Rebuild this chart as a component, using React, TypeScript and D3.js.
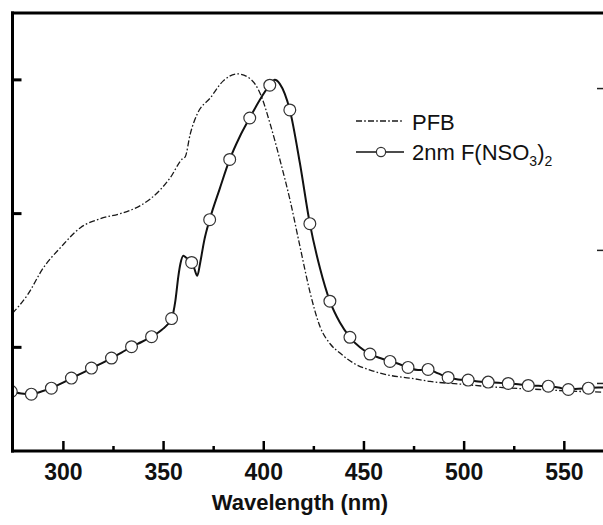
import React from "react";
import * as d3 from "d3";

// ---- Data ----
const xTicks = [300, 350, 400, 450, 500, 550];
const xMinorTicks = [325, 375, 425, 475, 525];
const yTicks = [0.2, 0.4, 0.6];
const rightTicks = [0.146, 0.345, 0.587];

// PFB (dash-dot)
const pfbNm = [274.6, 282.0, 290.0, 298.5, 308.5, 318.5, 328.4, 338.4, 343.4, 353.4, 359.4, 360.8, 363.3, 366.8, 373.3, 379.8, 386.8, 393.3, 398.3, 403.2, 408.2, 413.2, 418.2, 423.2, 428.2, 433.2, 438.2, 445.6, 453.1, 463.1, 473.1, 483.0, 498.0, 518.0, 537.9, 557.9, 570.3];
const pfbVal = [0.251, 0.278, 0.319, 0.349, 0.379, 0.3925, 0.400, 0.412, 0.422, 0.454, 0.482, 0.485, 0.519, 0.549, 0.573, 0.5985, 0.609, 0.6015, 0.579, 0.534, 0.479, 0.419, 0.349, 0.281, 0.230, 0.205, 0.191, 0.175, 0.166, 0.158, 0.154, 0.149, 0.145, 0.140, 0.137, 0.134, 0.133];

// 2nm F(NSO3)2 (solid line with circles)
const dopedNm = [274, 279, 284, 289, 294, 299, 304, 309, 314, 319, 324, 329, 334, 339, 344, 349, 354, 355.9, 357.4, 358.4, 359.9, 361.3, 364, 365.3, 366.8, 368.3, 370.3, 373, 378, 383, 388, 393, 398, 403, 405.5, 408, 410.5, 413, 418, 423, 428, 433, 438, 443, 448, 453, 458, 463, 467.5, 472, 477, 482, 487, 492, 497, 502, 507, 512, 517, 522, 527, 532, 537, 542, 547, 552, 557, 562, 567, 571];
const dopedVal = [0.134, 0.131, 0.130, 0.134, 0.139, 0.146, 0.154, 0.161, 0.169, 0.176, 0.184, 0.192, 0.201, 0.208, 0.216, 0.226, 0.243, 0.270, 0.307, 0.325, 0.337, 0.334, 0.327, 0.318, 0.307, 0.327, 0.360, 0.391, 0.437, 0.481, 0.515, 0.543, 0.570, 0.592, 0.600, 0.594, 0.579, 0.555, 0.476, 0.385, 0.319, 0.269, 0.237, 0.215, 0.200, 0.190, 0.184, 0.179, 0.175, 0.170, 0.166, 0.167, 0.161, 0.155, 0.152, 0.151, 0.149, 0.148, 0.147, 0.146, 0.145, 0.143, 0.1425, 0.142, 0.140, 0.137, 0.138, 0.139, 0.140, 0.140];

const markerNm = [274, 284, 294, 304, 314, 324, 334, 344, 354, 364, 373, 383, 393, 403, 413, 423, 433, 443, 453, 463, 472, 482, 492, 502, 512, 522, 532, 542, 552, 562];
const markerVal = [0.134, 0.130, 0.139, 0.154, 0.169, 0.184, 0.201, 0.216, 0.243, 0.327, 0.391, 0.481, 0.543, 0.592, 0.555, 0.385, 0.269, 0.215, 0.190, 0.179, 0.170, 0.167, 0.155, 0.151, 0.148, 0.146, 0.143, 0.142, 0.137, 0.139];

const legendLabels = ["PFB", "2nm F(NSO"];

// ---- Layout ----
const W = 603;
const H = 525;
const left = 12.5;
const right = 605;
const top = 13;
const bottom = 451;

export default function App() {
  const x = d3.scaleLinear().domain([274.6, 570.3]).range([left, right]);
  const y = d3.scaleLinear().domain([0.045, 0.7]).range([bottom, top]);

  const line = d3
    .line<[number, number]>()
    .x((d) => x(d[0]))
    .y((d) => y(d[1]))
    .curve(d3.curveMonotoneX);

  const pfbPath = line(pfbNm.map((n, i) => [n, pfbVal[i]]) as [number, number][]) || "";
  const dopedPath = line(dopedNm.map((n, i) => [n, dopedVal[i]]) as [number, number][]) || "";

  const font = "Arial, 'Liberation Sans', Helvetica, sans-serif";
  const dash = "6,2.2,1.6,2.2";

  return (
    <svg
      width={W}
      height={H}
      style={{ position: "absolute", left: 0, top: 0, background: "#fff" }}
      fontFamily={font}
    >
      <defs>
        <clipPath id="plot">
          <rect x={left} y={top} width={right - left} height={bottom - top} />
        </clipPath>
      </defs>
      <rect x={0} y={0} width={W} height={H} fill="#fff" />

      <g clipPath="url(#plot)">
        <path d={pfbPath} fill="none" stroke="#1a1a1a" strokeWidth={1.3} strokeDasharray={dash} />
        <path d={dopedPath} fill="none" stroke="#111" strokeWidth={2} />
        {markerNm.map((n, i) => (
          <circle key={i} cx={x(n)} cy={y(markerVal[i])} r={5.9} fill="#fff" stroke="#333" strokeWidth={1.2} />
        ))}
      </g>

      {/* Frame */}
      <line x1={left} x2={left} y1={top - 1.5} y2={bottom + 1.5} stroke="#000" strokeWidth={3} />
      <line x1={left - 1.5} x2={W + 5} y1={top} y2={top} stroke="#000" strokeWidth={3} />
      <line x1={left - 1.5} x2={W + 5} y1={bottom} y2={bottom} stroke="#000" strokeWidth={3} />

      {/* Left ticks */}
      {yTicks.map((t) => (
        <line key={t} x1={left} x2={left + 9} y1={y(t)} y2={y(t)} stroke="#000" strokeWidth={3} />
      ))}
      {/* Right ticks */}
      {rightTicks.map((t) => (
        <line key={t} x1={597} x2={603} y1={y(t)} y2={y(t)} stroke="#222" strokeWidth={1.5} />
      ))}

      {/* Bottom ticks */}
      {xTicks.map((t) => (
        <g key={t}>
          <line x1={x(t)} x2={x(t)} y1={bottom} y2={bottom - 10} stroke="#000" strokeWidth={2.5} />
          <text x={x(t)} y={480} textAnchor="middle" fontSize={23} fontWeight="bold" fill="#111">
            {t}
          </text>
        </g>
      ))}
      {xMinorTicks.map((t) => (
        <line key={t} x1={x(t)} x2={x(t)} y1={bottom} y2={bottom - 5} stroke="#000" strokeWidth={2.5} />
      ))}

      <text x={300} y={510} textAnchor="middle" fontSize={22} fontWeight="bold" fill="#111">
        Wavelength (nm)
      </text>

      {/* Legend */}
      <line x1={356} x2={404} y1={121} y2={121} stroke="#1a1a1a" strokeWidth={1.3} strokeDasharray={dash} />
      <text x={412} y={129.5} fontSize={22} fill="#111">
        {legendLabels[0]}
      </text>
      <line x1={356} x2={404} y1={152} y2={152} stroke="#111" strokeWidth={1.6} />
      <circle cx={381} cy={152} r={4.6} fill="#fff" stroke="#333" strokeWidth={1.2} />
      <text x={412} y={160} fontSize={22} fill="#111">
        {legendLabels[1]}
        <tspan fontSize={14} dy={6}>3</tspan>
        <tspan fontSize={22} dy={-6}>)</tspan>
        <tspan fontSize={14} dy={6}>2</tspan>
      </text>
    </svg>
  );
}
